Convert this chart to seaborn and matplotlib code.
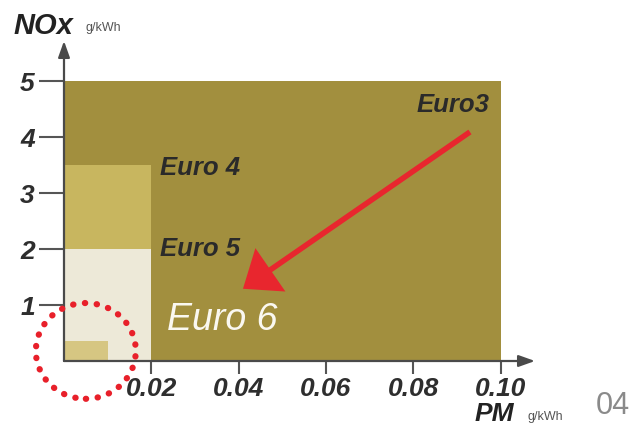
import matplotlib
matplotlib.use("Agg")
import matplotlib.pyplot as plt
from matplotlib.patches import Ellipse
import seaborn as sns

# ---- data ----
stages = ["Euro3", "Euro 4", "Euro 5", "Euro 6"]
pm_limits = [0.10, 0.02, 0.02, 0.01]      # g/kWh
nox_limits = [5.0, 3.5, 2.0, 0.35]         # g/kWh
stage_colors = ["#A28F3E", "#C8B65F", "#EDE9D8", "#D6C682"]
x_ticks = [0.02, 0.04, 0.06, 0.08, 0.10]
x_tick_labels = ["0.02", "0.04", "0.06", "0.08", "0.10"]
y_ticks = [1, 2, 3, 4, 5]
y_tick_labels = ["1", "2", "3", "4", "5"]
arrow_from = (0.0930, 4.09)
arrow_to = (0.0410, 1.29)
circle_center = (0.0050, 0.18)
circle_size = (0.0229, 1.71)

sns.set_theme(style="white")
plt.rcParams["font.family"] = ["Liberation Sans", "DejaVu Sans"]

W, H = 633, 427
fig = plt.figure(figsize=(W / 100, H / 100), dpi=100)
ax = fig.add_axes([64 / W, (H - 362) / H, 471 / W, 320 / H])
ax.set_facecolor("none")

for pm, nox, col in zip(pm_limits, nox_limits, stage_colors):
    ax.bar(0, nox, width=pm, align="edge", color=col, edgecolor="none", linewidth=0, zorder=1)

ax.set_xlim(0, 471 / 4365)
ax.set_ylim(0, 320 / 56)
sns.despine(ax=ax, left=True, bottom=True, top=True, right=True)

# axes with arrows
axis_col = "#4a4a4a"
for end in [(1.0, 0), (0, 1.0)]:
    ax.annotate("", xy=end, xytext=(0, 0), xycoords="axes fraction",
                arrowprops=dict(arrowstyle="-|>,head_length=0.7,head_width=0.25",
                                color=axis_col, lw=1.6, mutation_scale=14,
                                shrinkA=0, shrinkB=0), zorder=5)

ax.set_xticks(x_ticks)
ax.set_xticklabels(x_tick_labels)
ax.set_yticks(y_ticks)
ax.set_yticklabels(y_tick_labels)
ax.tick_params(axis="x", direction="out", length=9, width=1.5, color="#555555",
               pad=2, labelsize=19, labelcolor="#2e2e2e", bottom=True)
ax.tick_params(axis="y", direction="out", length=18, width=1.5, color="#555555",
               pad=3, labelsize=19, labelcolor="#2e2e2e", left=True)
for lab in ax.get_xticklabels() + ax.get_yticklabels():
    lab.set_fontstyle("italic")
    lab.set_fontweight("bold")

# stage labels
dark = "#2a2a2a"
ax.text(0.0976, 4.46, stages[0], ha="right", va="baseline", fontsize=18.5,
        fontweight="bold", fontstyle="italic", color=dark, zorder=6)
ax.text(0.0220, 3.34, stages[1], ha="left", va="baseline", fontsize=18.5,
        fontweight="bold", fontstyle="italic", color=dark, zorder=6)
ax.text(0.0220, 1.89, stages[2], ha="left", va="baseline", fontsize=18.5,
        fontweight="bold", fontstyle="italic", color=dark, zorder=6)
ax.text(0.0236, 0.57, stages[3], ha="left", va="baseline", fontsize=27,
        fontstyle="italic", color="#FAF8F0", zorder=6)

# red arrow
ax.annotate("", xy=arrow_to, xytext=arrow_from, xycoords="data",
            arrowprops=dict(width=4, headwidth=38, headlength=24,
                            color="#E8262E", linewidth=0), zorder=7)

# red dotted circle
circ = Ellipse(circle_center, circle_size[0], circle_size[1], fill=False,
               edgecolor="#E8202A", linewidth=4.5, linestyle=(0, (0.05, 1.85)),
               clip_on=False, zorder=8)
circ.set_capstyle("round")
ax.add_patch(circ)

# axis titles
fig.text(13 / W, 1 - 34 / H, "NOx", fontsize=21, fontweight="bold",
         fontstyle="italic", color="#222222", ha="left", va="baseline")
fig.text(85 / W, 1 - 31 / H, "g/kWh", fontsize=9, color="#555555",
         ha="left", va="baseline")
fig.text(475 / W, 1 - 421 / H, "PM", fontsize=19, fontweight="bold",
         fontstyle="italic", color="#222222", ha="left", va="baseline")
fig.text(528 / W, 1 - 420 / H, "g/kWh", fontsize=9, color="#555555",
         ha="left", va="baseline")
fig.text(613 / W, 1 - 414 / H, "04", fontsize=22, color="#8a8a8a",
         ha="center", va="baseline")

fig.savefig("out.png", dpi=100)
